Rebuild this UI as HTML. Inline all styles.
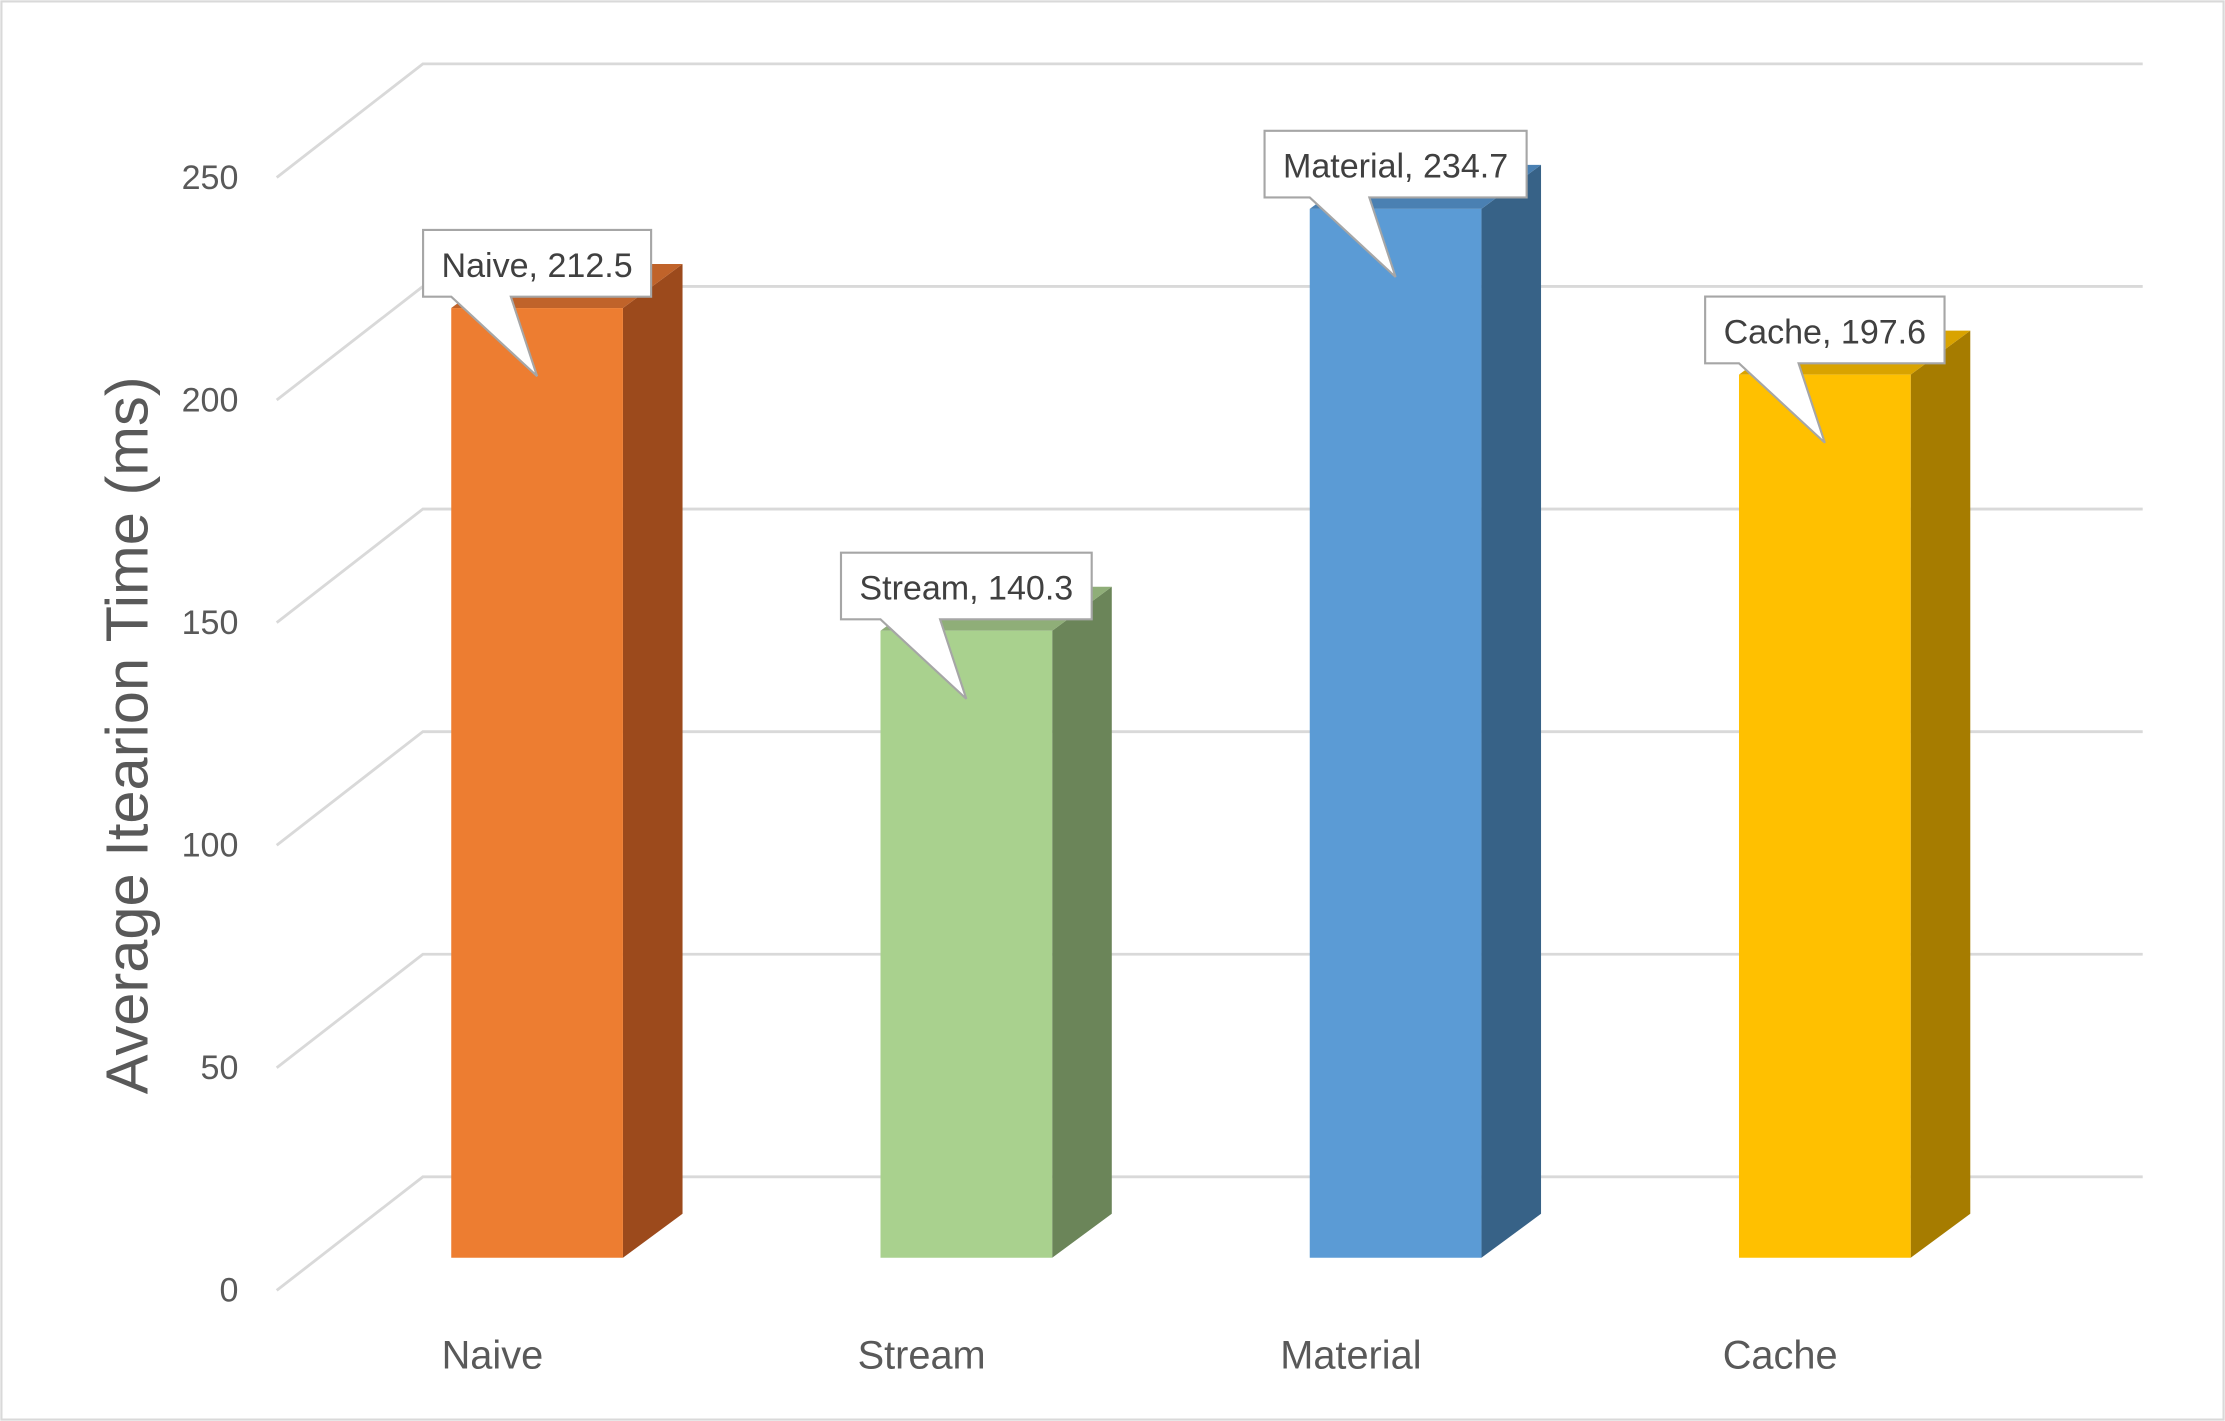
<!DOCTYPE html>
<html><head><meta charset="utf-8"><style>
html,body{margin:0;padding:0;background:#fff;}
svg{display:block;font-family:"Liberation Sans",sans-serif;}
</style></head><body>
<svg id="chart" width="2225" height="1421" viewBox="0 0 1568 1001" preserveAspectRatio="none" xmlns="http://www.w3.org/2000/svg">
<rect x="1" y="1" width="1566" height="999" fill="#fff" stroke="#d9d9d9" stroke-width="1.5"/>
<g id="grid"></g>
<g id="bars"></g>
<g id="labels"></g>
<text transform="translate(104,518) rotate(-90)" text-anchor="middle" font-size="42" fill="#595959">Average Itearion Time (ms)</text>
</svg>
<script>
const categories = ["Naive","Stream","Material","Cache"];
const values = [212.5,140.3,234.7,197.6];
const ticks = [0,50,100,150,200,250];
const frontColors = ["#ED7D31","#A9D18E","#5B9BD5","#FFC000"];
const sideColors = ["#9C4A1C","#6B8559","#376287","#A67C00"];
const topColors = ["#C0632A","#8FAE78","#4A80B2","#D9A300"];

const NS="http://www.w3.org/2000/svg";
const svg=document.getElementById('chart');
const grid=document.getElementById('grid'), bars=document.getElementById('bars'), labels=document.getElementById('labels');
function mk(tag,attrs,parent){const e=document.createElementNS(NS,tag);for(const k in attrs)e.setAttribute(k,attrs[k]);parent.appendChild(e);return e;}
const yFront=v=>909-v*(784/250);
const yBar=v=>886-v*(669/212.5);
const xBar=i=>318+i*302.5;
const barW=121, dx=42, dy=-31;
ticks.forEach(t=>{
  const yf=yFront(t), yb=yf-80;
  const l=mk('polyline',{points:`195,${yf} 298,${yb} 1510,${yb}`,fill:'none',stroke:'#d9d9d9','stroke-width':2},grid);
  
  
  const tx=mk('text',{x:168,y:yf+8,'text-anchor':'end','font-size':24,fill:'#595959'},labels);
  tx.textContent=t;
  
  
});
values.forEach((v,i)=>{
  const x=xBar(i), top=yBar(v), bot=886;
  const g=mk('g',{},bars);
  
  
  mk('polygon',{points:`${x+barW},${top} ${x+barW+dx},${top+dy} ${x+barW+dx},${bot+dy} ${x+barW},${bot}`,fill:sideColors[i]},g);
  mk('polygon',{points:`${x},${top} ${x+dx},${top+dy} ${x+barW+dx},${top+dy} ${x+barW},${top}`,fill:topColors[i]},g);
  mk('rect',{x:x,y:top,width:barW,height:bot-top,fill:frontColors[i]},g);
  const cl=mk('text',{x:x+29,y:964,'text-anchor':'middle','font-size':28,fill:'#595959'},labels);
  cl.textContent=categories[i];
  
  
  const cg=mk('g',{},labels);
  
  
  const cx=x+barW/2, bb=top-8, bt=bb-47;
  const path=mk('path',{fill:'#fff',stroke:'#a6a6a6','stroke-width':1.5},cg);
  const tt=mk('text',{x:cx,y:bb-14,'text-anchor':'middle','font-size':24,fill:'#404040'},cg);
  tt.textContent=categories[i]+', '+v.toFixed(1);
  let w=170; try{w=tt.getComputedTextLength()+26;}catch(e){}
  const l=cx-w/2, r=cx+w/2;
  path.setAttribute('d',`M${l},${bt} L${r},${bt} L${r},${bb} L${x+42},${bb} L${cx},${top+48} L${x},${bb} L${l},${bb} Z`);
});
</script>
</body></html>
